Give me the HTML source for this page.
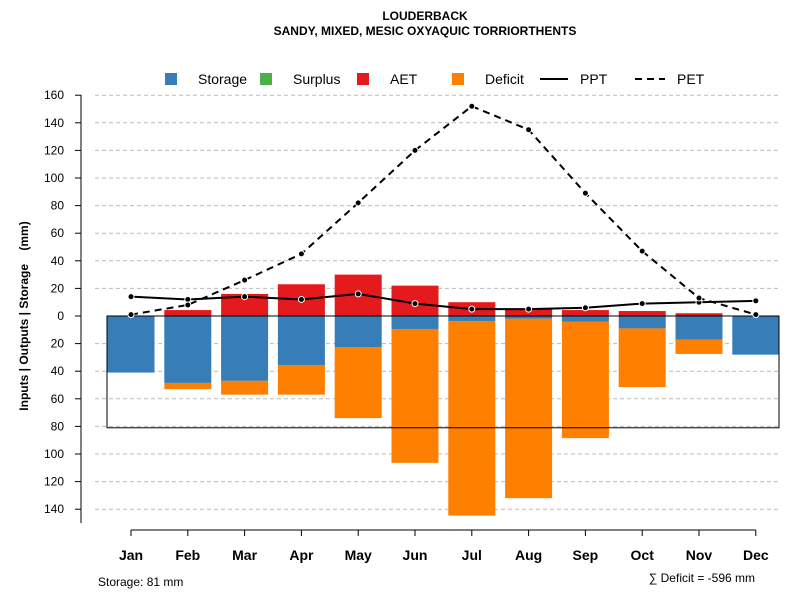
<!DOCTYPE html>
<html><head><meta charset="utf-8"><style>body{margin:0;background:#fff}svg{font-family:"Liberation Sans",sans-serif}</style></head>
<body>
<svg id="c" width="800" height="600" xmlns="http://www.w3.org/2000/svg"></svg>
<script>
const months=["Jan","Feb","Mar","Apr","May","Jun","Jul","Aug","Sep","Oct","Nov","Dec"];
const storage=[41,48.5,47,35.5,22.5,9.4,3.6,2,4,9,17,28];
const deficit=[0,4.5,10,21.5,51.5,97,141,130,84.5,42.5,10.5,0];
const aet=[0,4.3,16,23,30,22,10,5,4.3,3.6,2,0];
const ppt=[14,12,14,12,16,9,5,5,6,9,10,11];
const pet=[1,8,26,45,82,120,152,135,89,47,13,1];
const yTicks=[160,140,120,100,80,60,40,20,0,20,40,60,80,100,120,140];
const storageCap=81;
const NS="http://www.w3.org/2000/svg";
const svg=document.getElementById('c');
const y=v=>316-v*1.38;
const x=i=>131+i*56.8;
function el(t,a,p){const e=document.createElementNS(NS,t);for(const k in a)e.setAttribute(k,a[k]);(p||svg).appendChild(e);return e;}
function tx(s,a){const e=el('text',a);e.textContent=s;return e;}
const grid=el('g',{});

yTicks.forEach((t,k)=>{const v=k<=8?t:-t;if(v===0)return;el('line',{x1:95,x2:779,y1:y(v),y2:y(v),stroke:'#bbb','stroke-dasharray':'4,3'},grid);});
months.forEach((m,i)=>{
 const w=47,x0=x(i)-w/2;
 if(storage[i]>0){const r=el('rect',{x:x0,y:316,width:w,height:storage[i]*1.38,fill:'#377eb8'});}
 if(deficit[i]>0){const r=el('rect',{x:x0,y:y(-storage[i]),width:w,height:deficit[i]*1.38,fill:'#ff7f00'});}
 if(aet[i]>0){const r=el('rect',{x:x0,y:y(aet[i]),width:w,height:aet[i]*1.38,fill:'#e41a1c'});}
});
const box=el('rect',{x:107,y:316,width:672,height:storageCap*1.38,fill:'none',stroke:'#000'});

function line(arr,dash,name){const p=el('polyline',{points:arr.map((v,i)=>x(i)+','+y(v)).join(' '),fill:'none',stroke:'#000','stroke-width':2,'stroke-dasharray':dash});
 
 arr.forEach((v,i)=>{const c=el('circle',{cx:x(i),cy:y(v),r:3,fill:'#000',stroke:'#fff','stroke-width':1});});}
line(ppt,'none','ppt-line');line(pet,'7,5','pet-line');
el('line',{x1:81,x2:81,y1:95,y2:523,stroke:'#000'});
yTicks.forEach((t,k)=>{const v=k<=8?t:-t;el('line',{x1:75,x2:81,y1:y(v),y2:y(v),stroke:'#000'});
 const l=tx(String(t),{x:64,y:y(v)+4,'text-anchor':'end','font-size':12});});
el('line',{x1:x(0),x2:x(11),y1:530,y2:530,stroke:'#000'});
months.forEach((m,i)=>{el('line',{x1:x(i),x2:x(i),y1:530,y2:536,stroke:'#000'});
 const l=tx(m,{x:x(i),y:560,'text-anchor':'middle','font-size':14,'font-weight':'bold'});});
const yt=tx('Inputs | Outputs | Storage\u00a0\u00a0\u00a0\u00a0(mm)',{x:28,y:316,transform:'rotate(-90 28 316)','text-anchor':'middle','font-size':12,'font-weight':'bold'});

const t1=tx('LOUDERBACK',{x:425,y:20,'text-anchor':'middle','font-size':12,'font-weight':'bold'});
const t2=tx('SANDY, MIXED, MESIC OXYAQUIC TORRIORTHENTS',{x:425,y:35,'text-anchor':'middle','font-size':12,'font-weight':'bold'});
const lg=el('g',{});
[['Storage','#377eb8',165],['Surplus','#4daf4a',260],['AET','#e41a1c',357],['Deficit','#ff7f00',452]].forEach(d=>{
 el('rect',{x:d[2],y:73,width:12,height:12,fill:d[1]},lg);const t=tx(d[0],{x:d[2]+33,y:84,'font-size':14});lg.appendChild(t);});
el('line',{x1:540,x2:568,y1:79,y2:79,stroke:'#000','stroke-width':2},lg);lg.appendChild(tx('PPT',{x:580,y:84,'font-size':14}));
el('line',{x1:635,x2:665,y1:79,y2:79,stroke:'#000','stroke-width':2,'stroke-dasharray':'7,5'},lg);lg.appendChild(tx('PET',{x:677,y:84,'font-size':14}));
const s1=tx('Storage: 81 mm',{x:98,y:586,'font-size':12});
const s2=tx('∑ Deficit = -596 mm',{x:755,y:582,'text-anchor':'end','font-size':12});
</script>
</body></html>
